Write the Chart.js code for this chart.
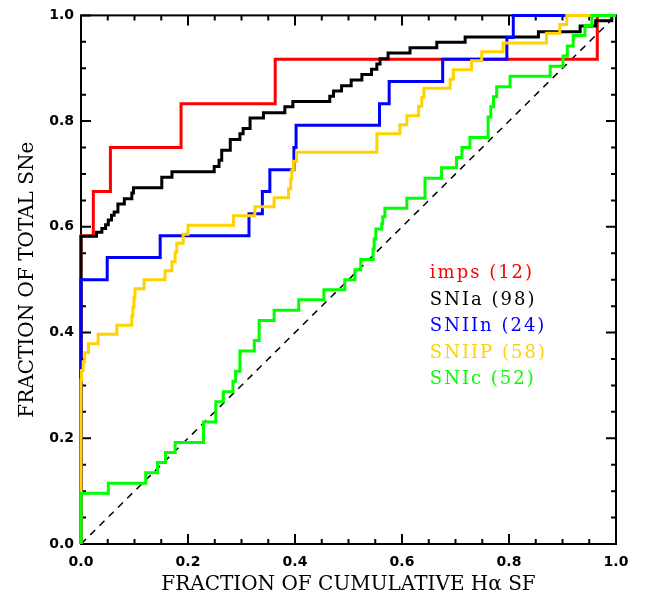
<!DOCTYPE html>
<html><head><meta charset="utf-8">
<script src="https://cdn.jsdelivr.net/npm/chart.js@4.4.0/dist/chart.umd.min.js"></script>
<style>html,body{margin:0;padding:0;background:#fff}#wrap{width:652px;height:598px;position:relative}</style>
</head><body><div id="wrap"><canvas id="c"></canvas></div>
<script>
// ---- tick labels ----
const xTickValues = [0, 0.2, 0.4, 0.6, 0.8, 1.0];
const xTickLabels = ['0.0', '0.2', '0.4', '0.6', '0.8', '1.0'];
const yTickValues = [0, 0.2, 0.4, 0.6, 0.8, 1.0];
const yTickLabels = ['0.0', '0.2', '0.4', '0.6', '0.8', '1.0'];
const xTitle = 'FRACTION OF CUMULATIVE H\u03b1 SF';
const yTitle = 'FRACTION OF TOTAL SNe';

// ---- series names ----
const seriesNames = ['imps (12)', 'SNIa (98)', 'SNIIn (24)', 'SNIIP (58)', 'SNIc (52)'];

// ---- series values (x = fraction of cumulative Halpha SF, y = fraction of SNe) ----
const impsX = [0, 0, 0.023, 0.055, 0.187, 0.363, 0.965, 1.0];
const impsY = [0, 0.583, 0.667, 0.750, 0.833, 0.917, 1.0, 1.0];

const sniaX = [0, 0, 0.029, 0.039, 0.046, 0.051, 0.057, 0.062, 0.069, 0.081, 0.095, 0.098, 0.151, 0.170,
  0.249, 0.258, 0.263, 0.279, 0.297, 0.303, 0.316, 0.341, 0.381, 0.396, 0.465, 0.472, 0.487, 0.505,
  0.525, 0.543, 0.553, 0.559, 0.574, 0.615, 0.665, 0.718, 0.855, 0.933, 0.962, 0.992, 1.0];
const sniaY = [0, 0.582, 0.590, 0.597, 0.604, 0.613, 0.622, 0.628, 0.643, 0.653, 0.664, 0.674, 0.694, 0.704,
  0.714, 0.726, 0.745, 0.765, 0.776, 0.786, 0.806, 0.816, 0.827, 0.837, 0.847, 0.857, 0.867, 0.878,
  0.888, 0.898, 0.908, 0.918, 0.929, 0.939, 0.949, 0.959, 0.969, 0.980, 0.990, 1.0, 1.0];

const sniinX = [0, 0, 0.049, 0.148, 0.314, 0.339, 0.353, 0.398, 0.402, 0.558, 0.576, 0.676, 0.796, 0.808, 1.0];
const sniinY = [0, 0.500, 0.542, 0.583, 0.625, 0.667, 0.708, 0.750, 0.792, 0.833, 0.875, 0.917, 0.958, 1.0, 1.0];

const sniipX = [0, 0, 0.001, 0.004, 0.007, 0.014, 0.032, 0.067, 0.095, 0.097, 0.099, 0.101, 0.118, 0.157,
  0.170, 0.176, 0.179, 0.191, 0.200, 0.285, 0.325, 0.361, 0.388, 0.392, 0.394, 0.397, 0.403, 0.553,
  0.596, 0.609, 0.631, 0.637, 0.641, 0.690, 0.696, 0.730, 0.749, 0.789, 0.870, 0.895, 0.908, 1.0];
const sniipY = [0, 0.310, 0.328, 0.345, 0.362, 0.379, 0.397, 0.414, 0.431, 0.448, 0.466, 0.483, 0.500, 0.517,
  0.534, 0.552, 0.569, 0.586, 0.603, 0.621, 0.638, 0.655, 0.672, 0.690, 0.707, 0.724, 0.741, 0.776,
  0.793, 0.810, 0.828, 0.845, 0.862, 0.879, 0.897, 0.914, 0.931, 0.948, 0.966, 0.983, 1.0, 1.0];

const snicX = [0, 0, 0.051, 0.121, 0.143, 0.158, 0.176, 0.229, 0.252, 0.266, 0.284, 0.289, 0.297, 0.324,
  0.333, 0.361, 0.407, 0.454, 0.493, 0.512, 0.523, 0.546, 0.548, 0.551, 0.562, 0.564, 0.568, 0.609,
  0.643, 0.674, 0.702, 0.712, 0.727, 0.761, 0.766, 0.771, 0.777, 0.802, 0.877, 0.901, 0.909, 0.920,
  0.942, 0.955, 1.0];
const snicY = [0, 0.096, 0.115, 0.135, 0.154, 0.173, 0.192, 0.231, 0.269, 0.288, 0.308, 0.327, 0.365, 0.385,
  0.423, 0.442, 0.462, 0.481, 0.500, 0.519, 0.538, 0.558, 0.577, 0.596, 0.606, 0.619, 0.635, 0.654,
  0.692, 0.712, 0.731, 0.750, 0.769, 0.808, 0.827, 0.846, 0.865, 0.885, 0.904, 0.923, 0.942, 0.962,
  0.981, 1.0, 1.0];

const diagX = [0, 1];
const diagY = [0, 1];

const seriesColors = ['#ff0000', '#000000', '#0000ff', '#ffd200', '#00ff00'];

function pts(xs, ys) { return xs.map((x, i) => ({x: x, y: ys[i]})); }

const allX = [impsX, sniaX, sniinX, sniipX, snicX];
const allY = [impsY, sniaY, sniinY, sniipY, snicY];

const datasets = allX.map((xs, i) => ({
  label: seriesNames[i],
  data: pts(xs, allY[i]),
  borderColor: seriesColors[i],
  borderWidth: 3,
  stepped: 'before',
  pointRadius: 0,
  fill: false,
  clip: false,
  order: 5 - i,
  borderJoinStyle: 'miter'
}));
datasets.push({
  label: 'equal',
  data: pts(diagX, diagY),
  borderColor: '#000',
  borderWidth: 1.5,
  borderDash: [7, 6],
  pointRadius: 0,
  fill: false,
  order: 10
});

const framePlugin = {
  id: 'frame',
  beforeDatasetsDraw(chart) {
    const {ctx, chartArea: a, scales} = chart;
    ctx.save();
    ctx.strokeStyle = '#000';
    ctx.lineWidth = 2;
    ctx.strokeRect(a.left, a.top, a.right - a.left, a.bottom - a.top);
    ctx.beginPath();
    for (let k = 0; k <= 20; k++) {
      const v = k / 20;
      const len = (k % 4 === 0) ? 10 : 5;
      const px = scales.x.getPixelForValue(v);
      const py = scales.y.getPixelForValue(v);
      ctx.moveTo(px, a.bottom); ctx.lineTo(px, a.bottom - len);
      ctx.moveTo(px, a.top); ctx.lineTo(px, a.top + len);
      ctx.moveTo(a.left, py); ctx.lineTo(a.left + len, py);
      ctx.moveTo(a.right, py); ctx.lineTo(a.right - len, py);
    }
    ctx.stroke();
    ctx.restore();
  },
  afterDraw(chart) {
    const {ctx, chartArea: a} = chart;
    ctx.save();
    ctx.fillStyle = '#000';
    ctx.font = '20px "DejaVu Serif"';
    ctx.textAlign = 'center';
    ctx.textBaseline = 'middle';
    ctx.fillText(xTitle, (a.left + a.right) / 2, 585);
    ctx.translate(28, (a.top + a.bottom) / 2);
    ctx.rotate(-Math.PI / 2);
    ctx.fillText(yTitle, 0, 0);
    ctx.restore();

    // legend
    ctx.save();
    ctx.font = '18px "DejaVu Serif"';
    try { ctx.letterSpacing = '2px'; } catch (e) {}
    ctx.textAlign = 'left';
    ctx.textBaseline = 'alphabetic';
    const lx = a.left + 0.652 * (a.right - a.left);
    const ly0 = 278;
    seriesNames.forEach((n, i) => {
      ctx.fillStyle = seriesColors[i];
      ctx.fillText(n, lx, ly0 + i * 26.5);
    });
    ctx.restore();
  }
};

const tickFont = {family: '"DejaVu Sans"', size: 14, weight: 'bold'};

new Chart(document.getElementById('c'), {
  type: 'line',
  data: {datasets: datasets},
  options: {
    responsive: true,
    maintainAspectRatio: false,
    animation: false,
    devicePixelRatio: 1,
    layout: {padding: {top: 10, right: 36, left: 0, bottom: 0}},
    plugins: {legend: {display: false}, tooltip: {enabled: false}},
    scales: {
      x: {
        type: 'linear', min: 0, max: 1,
        afterBuildTicks: s => { s.ticks = xTickValues.map(v => ({value: v})); },
        afterFit: s => { s.height = 54; },
        grid: {display: false, drawTicks: false},
        border: {display: false},
        ticks: {
          callback: (v, i) => xTickLabels[i],
          color: '#000', padding: 10, maxRotation: 0,
          font: tickFont
        }
      },
      y: {
        type: 'linear', min: 0, max: 1,
        afterBuildTicks: s => { s.ticks = yTickValues.map(v => ({value: v})); },
        afterFit: s => { s.width = 81; },
        grid: {display: false, drawTicks: false},
        border: {display: false},
        ticks: {
          callback: (v, i) => yTickLabels[i],
          color: '#000', padding: 7,
          font: tickFont
        }
      }
    }
  },
  plugins: [framePlugin]
});
</script></body></html>
